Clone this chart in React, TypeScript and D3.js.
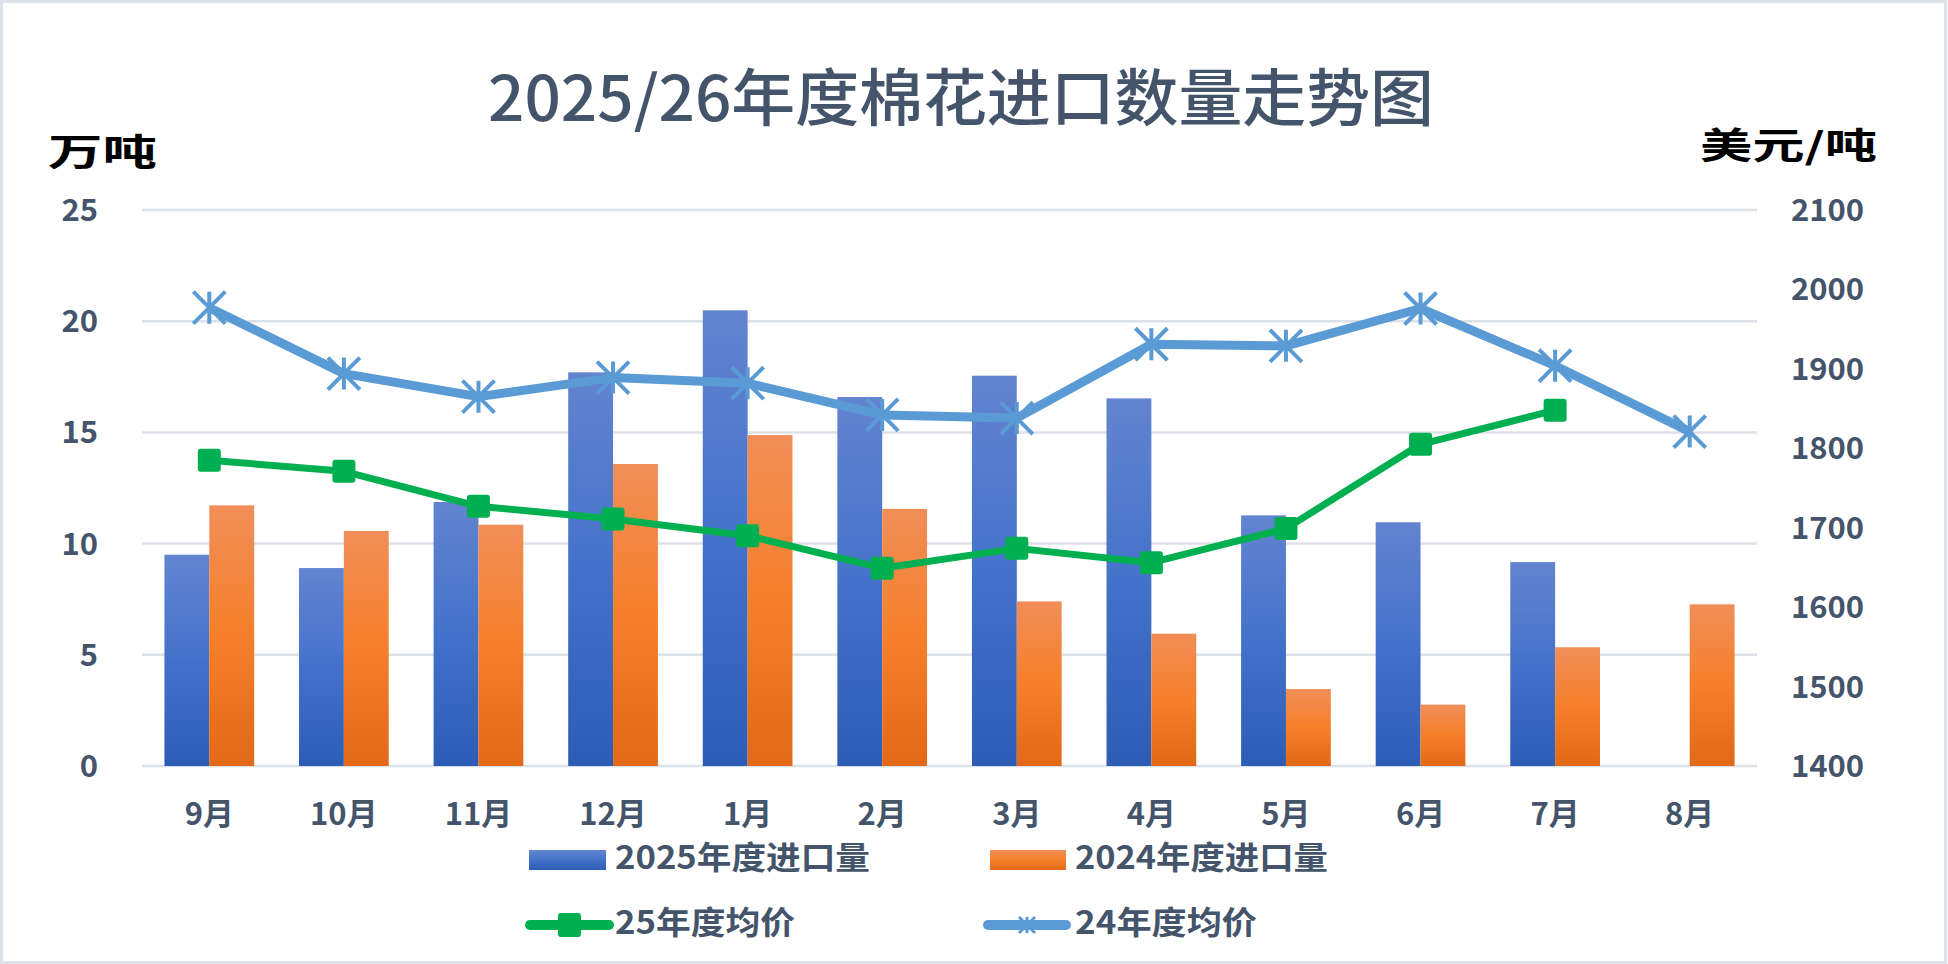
import * as d3 from "d3";

// months on the category axis
const months = ["9月", "10月", "11月", "12月", "1月", "2月", "3月", "4月", "5月", "6月", "7月", "8月"];

// import volume, 10k tons (left axis)
const import2025 = [9.5, 8.9, 11.87, 17.7, 20.49, 16.59, 17.55, 16.53, 11.27, 10.96, 9.17, null];
const import2024 = [11.72, 10.57, 10.85, 13.58, 14.88, 11.56, 7.4, 5.95, 3.46, 2.76, 5.34, 7.27];

// average price, USD/ton (right axis)
const price25 = [1785, 1771, 1727, 1711, 1690, 1649, 1674, 1656, 1699, 1805, 1848, null];
const price24 = [1977, 1894, 1865, 1889, 1882, 1842, 1838, 1931, 1929, 1976, 1904, 1821];

const leftTicks = [0, 5, 10, 15, 20, 25];
const rightTicks = [1400, 1500, 1600, 1700, 1800, 1900, 2000, 2100];

const W = 1948;
const H = 964;
const FONT = "'Noto Sans CJK SC', 'Noto Sans', sans-serif";
const TEXT = "#44546A";
const BLUE_LINE = "#5B9BD5";
const GREEN = "#00B050";

const Asterisk = ({ x, y, r, w }: any) => (
  <path
    d={`M${x},${y - r}L${x},${y + r}M${x - r},${y - r}L${x + r},${y + r}M${x - r},${y + r}L${x + r},${y - r}`}
    stroke={BLUE_LINE}
    strokeWidth={w}
    fill="none"
  />
);

const App = () => {
  const margin = { left: 142, right: W - 1757, top: 210, bottom: H - 766 };

  const x = d3.scaleBand().domain(months).range([margin.left, W - margin.right]);
  const x1 = d3.scaleBand().domain(["a", "b"]).range([0, x.bandwidth()]).paddingOuter(0.5);
  const yL = d3.scaleLinear().domain([0, 25]).range([H - margin.bottom, margin.top]);
  const yR = d3.scaleLinear().domain([1400, 2100]).range([H - margin.bottom, margin.top]);
  const cx = (m: string) => (x(m) as number) + x.bandwidth() / 2;

  const line = d3
    .line<any>()
    .defined((d) => d.v != null)
    .x((d) => cx(d.m))
    .y((d) => yR(d.v));

  const pts25 = months.map((m, i) => ({ m, v: price25[i] }));
  const pts24 = months.map((m, i) => ({ m, v: price24[i] }));

  return (
    <svg width={W} height={H} style={{ position: "absolute", left: 0, top: 0, background: "#fff" }}>
      <defs>
        <linearGradient id="gBlue" x1="0" y1="0" x2="0" y2="1">
          <stop offset="0%" stopColor="#6384D0" />
          <stop offset="50%" stopColor="#4472CA" />
          <stop offset="100%" stopColor="#2D5CB6" />
        </linearGradient>
        <linearGradient id="gOrange" x1="0" y1="0" x2="0" y2="1">
          <stop offset="0%" stopColor="#F18E58" />
          <stop offset="50%" stopColor="#F57F2A" />
          <stop offset="100%" stopColor="#E26917" />
        </linearGradient>
      </defs>

      <rect x={1.5} y={1.5} width={W - 4} height={H - 3} fill="#fff" stroke="#DEE2EA" strokeWidth={3} />

      {/* title */}
      <text x={488} y={121} textLength={946} lengthAdjust="spacingAndGlyphs"
        fontFamily={FONT} fontSize={62} fontWeight={500} fill={TEXT}>
        2025/26年度棉花进口数量走势图
      </text>

      {/* axis units */}
      <text x={48} y={166} textLength={109} lengthAdjust="spacingAndGlyphs"
        fontFamily={FONT} fontSize={37} fontWeight={700} fill="#000">万吨</text>
      <text x={1700} y={159} textLength={177} lengthAdjust="spacingAndGlyphs"
        fontFamily={FONT} fontSize={36} fontWeight={700} fill="#000">美元/吨</text>

      {/* gridlines */}
      {leftTicks.map((t) => (
        <line key={t} x1={margin.left} x2={W - margin.right} y1={yL(t)} y2={yL(t)}
          stroke="#DCE1E8" strokeWidth={2.5} />
      ))}

      {/* left ticks */}
      {leftTicks.map((t) => (
        <text key={t} x={98} y={yL(t) + 11} textAnchor="end"
          fontFamily={FONT} fontSize={31} fontWeight={700} fill={TEXT}>{t}</text>
      ))}

      {/* right ticks */}
      {rightTicks.map((t) => (
        <text key={t} x={1791} y={yR(t) + 11}
          fontFamily={FONT} fontSize={31} fontWeight={700} fill={TEXT}>{t}</text>
      ))}

      {/* bars */}
      {months.map((m, i) => (
        <g key={m} transform={`translate(${x(m)},0)`}>
          {import2025[i] != null && (
            <rect x={x1("a")} width={x1.bandwidth()} y={yL(import2025[i] as number)}
              height={yL(0) - yL(import2025[i] as number)} fill="url(#gBlue)" />
          )}
          <rect x={x1("b")} width={x1.bandwidth()} y={yL(import2024[i])}
            height={yL(0) - yL(import2024[i])} fill="url(#gOrange)" />
        </g>
      ))}

      {/* category labels */}
      {months.map((m) => (
        <text key={m} x={cx(m)} y={825} textAnchor="middle"
          fontFamily={FONT} fontSize={31} fontWeight={700} fill={TEXT}>{m}</text>
      ))}

      {/* 25年度均价 */}
      <path d={line(pts25) as string} fill="none" stroke={GREEN} strokeWidth={7} strokeLinejoin="round" />
      {pts25.filter((d) => d.v != null).map((d) => (
        <rect key={d.m} x={cx(d.m) - 11.5} y={yR(d.v as number) - 11.5} width={23} height={23} rx={3} fill={GREEN} />
      ))}

      {/* 24年度均价 */}
      <path d={line(pts24) as string} fill="none" stroke={BLUE_LINE} strokeWidth={9} strokeLinejoin="round" />
      {pts24.map((d) => (
        <Asterisk key={d.m} x={cx(d.m)} y={yR(d.v)} r={16} w={4} />
      ))}

      {/* legend */}
      <rect x={529} y={850} width={77} height={20} fill="url(#gBlue)" />
      <text x={615} y={869} textLength={255} lengthAdjust="spacingAndGlyphs"
        fontFamily={FONT} fontSize={32} fontWeight={700} fill={TEXT}>2025年度进口量</text>

      <rect x={990} y={850} width={76} height={20} fill="url(#gOrange)" />
      <text x={1075} y={869} textLength={253} lengthAdjust="spacingAndGlyphs"
        fontFamily={FONT} fontSize={32} fontWeight={700} fill={TEXT}>2024年度进口量</text>

      <line x1={530} x2={609} y1={925} y2={925} stroke={GREEN} strokeWidth={10} strokeLinecap="round" />
      <rect x={558} y={913} width={23} height={24} rx={3} fill={GREEN} />
      <text x={615} y={934} textLength={180} lengthAdjust="spacingAndGlyphs"
        fontFamily={FONT} fontSize={32} fontWeight={700} fill={TEXT}>25年度均价</text>

      <line x1={988} x2={1066} y1={925} y2={925} stroke={BLUE_LINE} strokeWidth={10} strokeLinecap="round" />
      <Asterisk x={1027} y={925} r={8} w={3} />
      <text x={1075} y={934} textLength={182} lengthAdjust="spacingAndGlyphs"
        fontFamily={FONT} fontSize={32} fontWeight={700} fill={TEXT}>24年度均价</text>
    </svg>
  );
};

export default App;
